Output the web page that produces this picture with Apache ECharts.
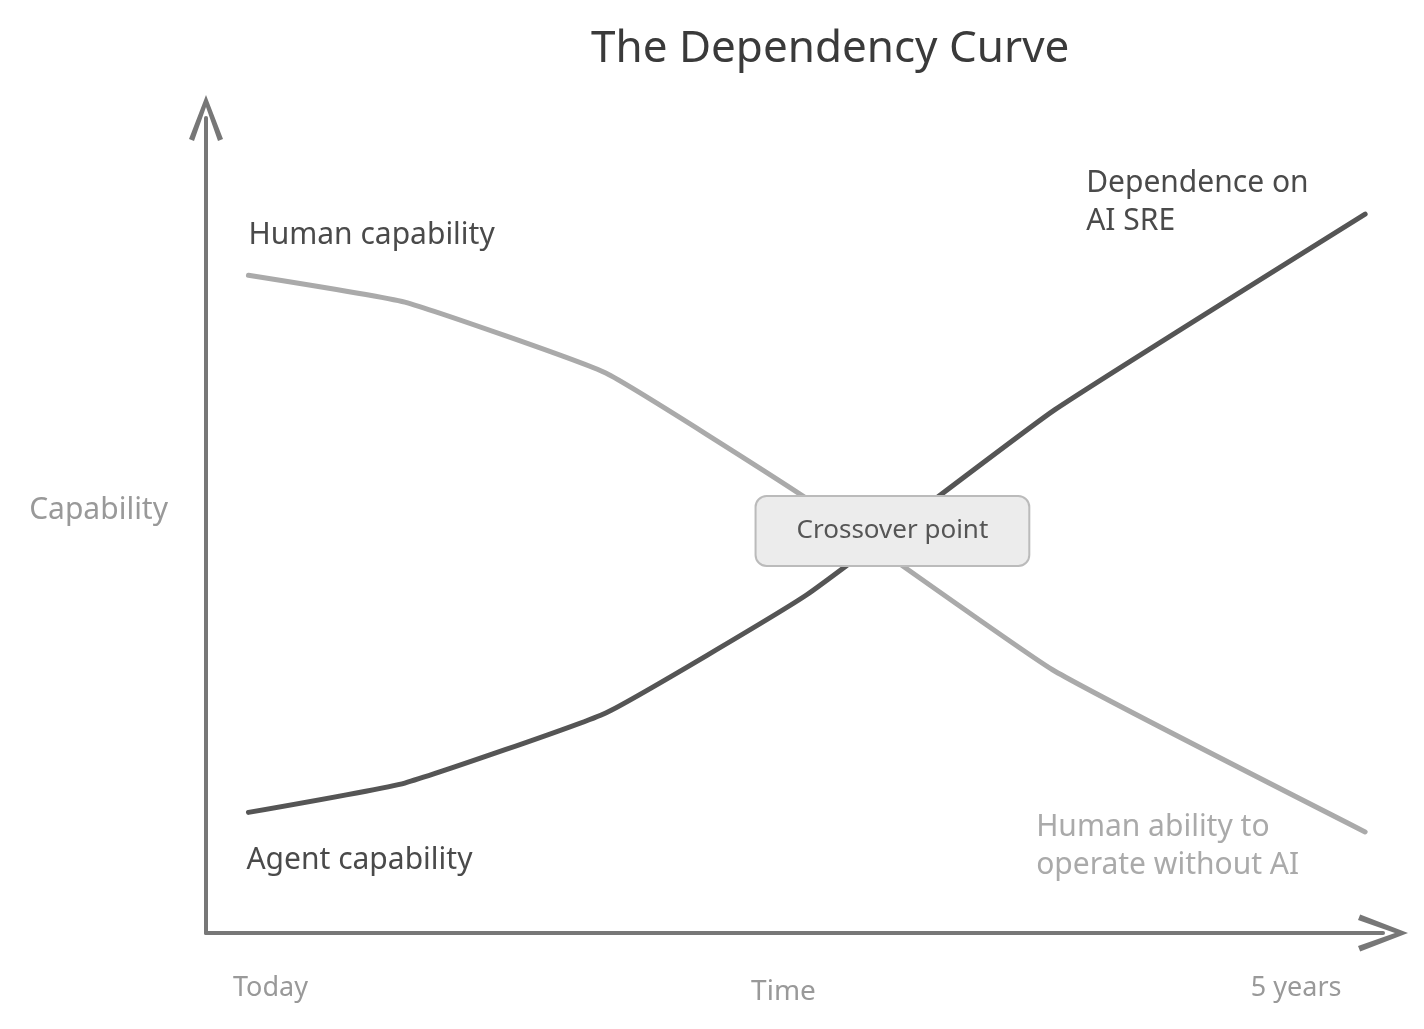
<!DOCTYPE html>
<html>
<head>
<meta charset="utf-8">
<title>The Dependency Curve</title>
<script src="https://cdn.jsdelivr.net/npm/echarts@6/dist/echarts.min.js"></script>
<style>
    html, body { margin: 0; padding: 0; background: #fff; }
    #main { width: 1424px; height: 1029px; }
</style>
</head>
<body>
<div id="main"></div>
<script>
// time in years, from today to 5 years out
var years = [0, 0.7, 1.6, 2.5, 3.6, 5];
// capability, 0..100
var humanCapability = [80.7, 77.4, 68.7, 53.3, 32.3, 12.4];
var agentCapability = [14.8, 18.4, 27.0, 41.5, 64.0, 88.2];
var tickValues = [0, 5];
var tickLabels = ['Today', '5 years'];

var FONT = '"Noto Sans", "DejaVu Sans", sans-serif';
var DARK = '#4a4a4a';
var LIGHT = '#aaaaaa';
var AXIS = '#777777';
var MUTED = '#999999';

// where the two lines cross (linear between sample points)
function crossover(){
    for (var i = 0; i < years.length - 1; i++) {
        var d0 = humanCapability[i] - agentCapability[i];
        var d1 = humanCapability[i+1] - agentCapability[i+1];
        if (d0 >= 0 && d1 < 0) {
            var t = d0 / (d0 - d1);
            return [
                years[i] + t * (years[i+1] - years[i]),
                humanCapability[i] + t * (humanCapability[i+1] - humanCapability[i])
            ];
        }
    }
    return [years[0], humanCapability[0]];
}

function pairs(ys){
    return years.map(function(x, i){ return [x, ys[i]]; });
}

// open chevron, pointing up; the axis rotates it
var chevron = 'path://M0,44 L17,0 L34,44 L29,46 L17,12 L5,46 Z';

function note(coord, text, color, offset, align, extra){
    var label = {
        show: true,
        position: 'inside',
        formatter: text,
        color: color,
        fontFamily: FONT,
        fontSize: 30,
        lineHeight: 38,
        align: align || 'left',
        verticalAlign: 'middle',
        offset: offset
    };
    if (extra) {
        for (var k in extra) label[k] = extra[k];
    }
    return {
        coord: coord,
        symbol: 'circle',
        symbolSize: 1,
        itemStyle: { color: 'rgba(0,0,0,0)' },
        label: label
    };
}

var last = years.length - 1;
var cross = crossover();

var option = {
    animation: false,
    backgroundColor: '#fff',
    grid: {
        left: 206,
        right: 41,
        top: 118,
        bottom: 96,
        outerBoundsMode: 'none'
    },
    graphic: [{
        type: 'text',
        left: 591,
        top: 27,
        style: {
            text: 'The Dependency Curve',
            fill: '#3a3a3a',
            font: '44px ' + FONT
        }
    }],
    xAxis: {
        type: 'value',
        min: -0.19,
        max: 5.08,
        name: 'Time',
        nameLocation: 'middle',
        nameGap: 45,
        nameMoveOverlap: false,
        nameTextStyle: { color: MUTED, fontFamily: FONT, fontSize: 28, padding: [0, 22, 0, 0] },
        axisLine: {
            show: true,
            onZero: false,
            symbol: ['none', chevron],
            symbolSize: [38, 50],
            lineStyle: { color: AXIS, width: 4, cap: 'round' }
        },
        axisTick: { show: false },
        splitLine: { show: false },
        axisLabel: {
            customValues: tickValues,
            margin: 42,
            color: MUTED,
            fontFamily: FONT,
            fontSize: 27,
            formatter: function(v){
                var i = tickValues.indexOf(v);
                if (i < 0) return '';
                return i === 0 ? '{first|' + tickLabels[i] + '}' : '{last|' + tickLabels[i] + '}';
            },
            rich: {
                first: { color: MUTED, fontFamily: FONT, fontSize: 27, padding: [0, 0, 0, 44] },
                last: { color: MUTED, fontFamily: FONT, fontSize: 27, padding: [0, 138, 0, 0] }
            }
        }
    },
    yAxis: {
        type: 'value',
        min: 0,
        max: 100,
        name: 'Capability',
        nameLocation: 'middle',
        nameRotate: 0,
        nameGap: 38,
        nameMoveOverlap: false,
        nameTextStyle: { color: MUTED, fontFamily: FONT, fontSize: 30, verticalAlign: 'bottom' },
        axisLine: {
            show: true,
            onZero: false,
            symbol: ['none', chevron],
            symbolSize: [34, 47],
            lineStyle: { color: AXIS, width: 4, cap: 'round' }
        },
        axisTick: { show: false },
        axisLabel: { show: false },
        splitLine: { show: false }
    },
    series: [
        {
            name: 'Human capability',
            type: 'line',
            data: pairs(humanCapability),
            smooth: 0.12,
            showSymbol: false,
            lineStyle: { color: LIGHT, width: 5, cap: 'round', join: 'round' },
            z: 2,
            markPoint: {
                silent: true,
                data: [
                    note([years[0], humanCapability[0]], 'Human capability', DARK, [0, -40]),
                    note([years[last], humanCapability[last]], 'Human ability to\noperate without AI', LIGHT, [-329, 15])
                ]
            }
        },
        {
            name: 'Agent capability',
            type: 'line',
            data: pairs(agentCapability),
            smooth: 0.12,
            showSymbol: false,
            lineStyle: { color: '#555555', width: 5, cap: 'round', join: 'round' },
            z: 3,
            markPoint: {
                silent: true,
                data: [
                    note([years[0], agentCapability[0]], 'Agent capability', DARK, [-2, 48]),
                    note([years[last], agentCapability[last]], 'Dependence on\nAI SRE', DARK, [-279, -12]),
                    note(cross, 'Crossover point', '#555555', [19, -14], 'center', {
                        fontSize: 26,
                        lineHeight: 32,
                        backgroundColor: '#ececec',
                        borderColor: '#bbbbbb',
                        borderWidth: 2,
                        borderRadius: 10,
                        padding: [18, 40, 18, 40]
                    })
                ]
            }
        }
    ]
};

var chart = echarts.init(document.getElementById('main'));
chart.setOption(option);
</script>
</body>
</html>
